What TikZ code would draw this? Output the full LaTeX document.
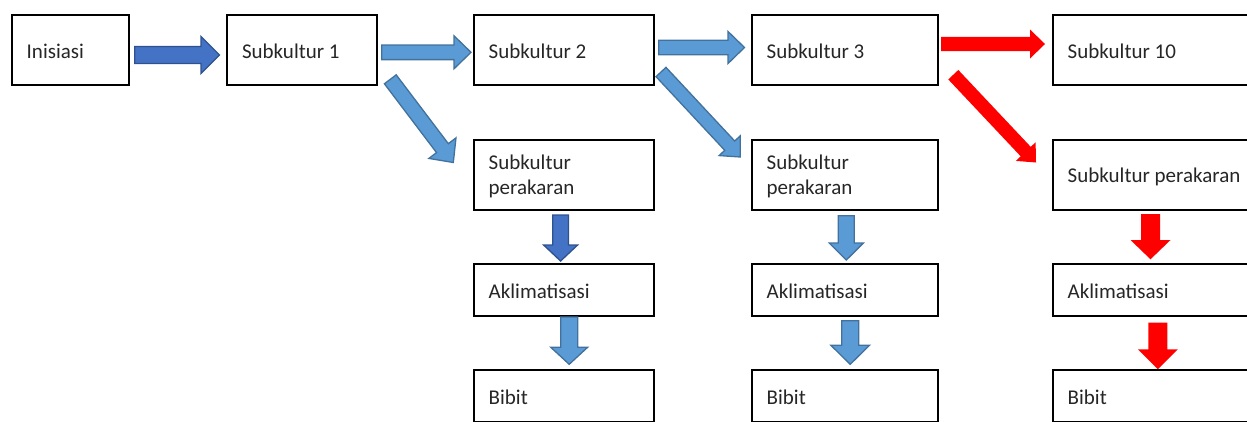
\documentclass[tikz,border=0pt]{standalone}
\usepackage{fontspec}
\setmainfont{Carlito}
\usetikzlibrary{calc}
\definecolor{dkfill}{HTML}{4472C4}
\definecolor{dkline}{HTML}{2F528F}
\definecolor{ltfill}{HTML}{5B9BD5}
\definecolor{ltline}{HTML}{41719C}
\definecolor{redfill}{HTML}{FF0000}
\definecolor{txt}{HTML}{262626}
% #1 style, #2 tail coordinate, #3 tip coordinate, #4 shaft half width, #5 head half width, #6 head length
\newcommand\blockarrow[6]{%
  \coordinate (ba-h) at ($(#3)!#6!(#2)$);
  \draw[#1] ($(#2)!#4!90:(#3)$) -- ($(ba-h)!#4!90:(#3)$) -- ($(ba-h)!#5!90:(#3)$) -- (#3)
    -- ($(ba-h)!#5!-90:(#3)$) -- ($(ba-h)!#4!-90:(#3)$) -- ($(#2)!#4!-90:(#3)$) -- cycle;
}
\newcommand\bx[2]{\hbox to #1{#2\hfil}}
\newcommand\twolines[2]{\vbox{\hbox{#1}\hbox{#2}}}
\begin{document}
\begin{tikzpicture}[x=1pt,y=-1pt,
  box/.style={draw=black, line width=2pt, inner xsep=15pt, inner ysep=0pt, outer sep=0pt,
    text height=16pt, text depth=0pt, text=txt, font=\fontsize{21pt}{25pt}\selectfont},
  twobox/.style={box, text height=38.9pt},
  darkarrow/.style={fill=dkfill, draw=dkline, line width=1.3pt, line join=miter},
  lightarrow/.style={fill=ltfill, draw=ltline, line width=1.3pt, line join=miter},
  redarrow/.style={fill=redfill, draw=none}]
\useasboundingbox (0,0) rectangle (1247,421);
\clip (0,0) rectangle (1247,421);

% top row
\node[box, minimum width=117.6pt, minimum height=69.7pt] (ini) at (70.5,50.15) {\bx{87.6pt}{Inisiasi}};
\node[box, minimum width=150pt, minimum height=69.7pt] (s1) at (302,50.15) {\bx{120pt}{Subkultur 1}};
\node[box, minimum width=180pt, minimum height=69.7pt] (s2) at (563.7,50.15) {\bx{150pt}{Subkultur 2}};
\node[box, minimum width=186pt, minimum height=69.7pt] (s3) at (844.7,50.15) {\bx{156pt}{Subkultur 3}};
\node[box, minimum width=210pt, minimum height=69.7pt] (s10) at (1157.7,50.15) {\bx{180pt}{Subkultur 10}};

% rooting row
\node[twobox, minimum width=180pt, minimum height=70.3pt] (p1) at (563.7,174.85) {\bx{150pt}{\twolines{Subkultur}{perakaran}}};
\node[twobox, minimum width=186pt, minimum height=70.3pt] (p2) at (844.7,174.85) {\bx{156pt}{\twolines{Subkultur}{perakaran}}};
\node[box, minimum width=210pt, minimum height=70.3pt] (p3) at (1157.7,174.85) {\bx{180pt}{Subkultur perakaran}};

% acclimatisation row
\node[box, minimum width=180pt, minimum height=52pt] (k1) at (563.7,290.3) {\bx{150pt}{Aklimatisasi}};
\node[box, minimum width=186pt, minimum height=52pt] (k2) at (844.7,290.3) {\bx{156pt}{Aklimatisasi}};
\node[box, minimum width=210pt, minimum height=52pt] (k3) at (1157.7,290.3) {\bx{180pt}{Aklimatisasi}};

% seedling row
\node[box, minimum width=180pt, minimum height=52pt] (b1) at (563.7,396.3) {\bx{150pt}{Bibit}};
\node[box, minimum width=186pt, minimum height=52pt] (b2) at (844.7,396.3) {\bx{156pt}{Bibit}};
\node[box, minimum width=210pt, minimum height=52pt] (b3) at (1157.7,396.3) {\bx{180pt}{Bibit}};

% arrow end points
\coordinate (a1s) at (134.7,55);   \coordinate (a1e) at (219.5,55);
\coordinate (a2s) at (381.7,52.3); \coordinate (a2e) at (471,52.3);
\coordinate (a3s) at (658.7,47.5); \coordinate (a3e) at (744.5,47.5);
\coordinate (a4s) at (941,44);     \coordinate (a4e) at (1045,44);
\coordinate (d1s) at (390.3,79.3); \coordinate (d1e) at (453.3,162.5);
\coordinate (d2s) at (661,72);     \coordinate (d2e) at (740.3,157);
\coordinate (d3s) at (953.3,74.7); \coordinate (d3e) at (1036,162.5);
\coordinate (v1s) at (560.6,215);  \coordinate (v1e) at (560.6,261);
\coordinate (v2s) at (569.2,317);  \coordinate (v2e) at (569.2,364.3);
\coordinate (v3s) at (846.3,215.7);\coordinate (v3e) at (846.3,260);
\coordinate (v4s) at (850.2,320.7);\coordinate (v4e) at (850.2,364.3);
\coordinate (v5s) at (1150.5,214); \coordinate (v5e) at (1150.5,259.3);
\coordinate (v6s) at (1157.8,322.7);\coordinate (v6e) at (1157.8,369.3);

% horizontal arrows
\blockarrow{darkarrow}{a1s}{a1e}{8.5pt}{18.5pt}{18.5pt}
\blockarrow{lightarrow}{a2s}{a2e}{7.3pt}{16.5pt}{17pt}
\blockarrow{lightarrow}{a3s}{a3e}{7.3pt}{16pt}{16.5pt}
\blockarrow{redarrow}{a4s}{a4e}{7.2pt}{14.5pt}{15pt}
% diagonal arrows
\blockarrow{lightarrow}{d1s}{d1e}{7.4pt}{17pt}{18pt}
\blockarrow{lightarrow}{d2s}{d2e}{6.8pt}{14.5pt}{15.5pt}
\blockarrow{redarrow}{d3s}{d3e}{6.9pt}{13.6pt}{15pt}
% vertical arrows
\blockarrow{darkarrow}{v1s}{v1e}{7.8pt}{17pt}{16pt}
\blockarrow{lightarrow}{v2s}{v2e}{8.5pt}{18.4pt}{17pt}
\blockarrow{lightarrow}{v3s}{v3e}{8pt}{17.1pt}{17pt}
\blockarrow{lightarrow}{v4s}{v4e}{8.5pt}{19.3pt}{19pt}
\blockarrow{redarrow}{v5s}{v5e}{9.5pt}{20pt}{19.3pt}
\blockarrow{redarrow}{v6s}{v6e}{9.5pt}{20pt}{20pt}
\end{tikzpicture}
\end{document}
